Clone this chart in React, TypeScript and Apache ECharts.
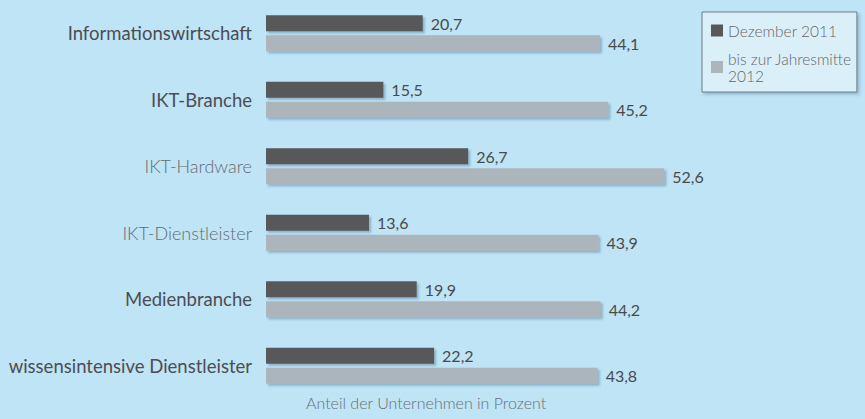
import React, { useEffect, useRef } from "react";
import * as echarts from "echarts";

const categories = [
  "Informationswirtschaft",
  "IKT-Branche",
  "IKT-Hardware",
  "IKT-Dienstleister",
  "Medienbranche",
  "wissensintensive Dienstleister",
];
const boldCategories = [
  "Informationswirtschaft",
  "IKT-Branche",
  "Medienbranche",
  "wissensintensive Dienstleister",
];
const seriesNames = ["Dezember 2011", "bis zur Jahresmitte\n2012"];
const dec2011 = [20.7, 15.5, 26.7, 13.6, 19.9, 22.2];
const mid2012 = [44.1, 45.2, 52.6, 43.9, 44.2, 43.8];
const axisTitle = "Anteil der Unternehmen in Prozent";

const FONT = "Lato, 'Open Sans', sans-serif";

export default function App() {
  const ref = useRef<HTMLDivElement>(null);
  useEffect(() => {
    if (!ref.current) return;
    const chart = echarts.init(ref.current, null, { renderer: "svg" });
    const shadow = {
      shadowColor: "rgba(40,80,110,0.35)",
      shadowBlur: 2,
      shadowOffsetX: 2,
      shadowOffsetY: 2,
    };
    const label = {
      show: true,
      position: "right" as const,
      distance: 8,
      color: "#4a4a4c",
      fontFamily: FONT,
      fontSize: 16,
      formatter: (p: any) => String(p.value).replace(".", ","),
    };
    chart.setOption({
      animation: false,
      backgroundColor: "#bee4f6",
      textStyle: { fontFamily: FONT },
      grid: { left: 266, right: 69, top: -4, height: 403, containLabel: false },
      legend: {
        orient: "vertical",
        left: 702,
        top: 12,
        padding: [10, 5, 8, 9],
        itemGap: 11,
        itemWidth: 12,
        itemHeight: 12,
        backgroundColor: "#dbeff9",
        borderColor: "#6d7d88",
        borderWidth: 1,
        shadowColor: "rgba(40,80,110,0.3)",
        shadowBlur: 3,
        shadowOffsetX: 2,
        shadowOffsetY: 2,
        icon: "rect",
        textStyle: { color: "#666", fontSize: 15.5, fontFamily: FONT, fontWeight: 300, lineHeight: 17 },
        data: seriesNames,
      },
      xAxis: {
        type: "value",
        min: 0,
        max: 70,
        show: false,
      },
      yAxis: {
        type: "category",
        data: categories,
        inverse: true,
        axisLine: { show: false },
        axisTick: { show: false },
        splitLine: { show: false },
        axisLabel: {
          margin: 14,
          formatter: (v: string) =>
            boldCategories.includes(v) ? `{b|${v}}` : `{n|${v}}`,
          rich: {
            b: { fontSize: 18.5, color: "#4c4d52", fontWeight: 400, fontFamily: FONT },
            n: { fontSize: 18, color: "#676c71", fontWeight: 300, fontFamily: FONT },
          },
        },
      },
      series: [
        {
          name: seriesNames[0],
          type: "bar",
          data: dec2011,
          barWidth: 16,
          barGap: "25%",
          itemStyle: { color: "#58585a", ...shadow },
          label,
        },
        {
          name: seriesNames[1],
          type: "bar",
          data: mid2012,
          barWidth: 16,
          itemStyle: { color: "#adb5bc", ...shadow },
          label,
        },
      ],
      graphic: [
        {
          type: "text",
          left: 306,
          top: 394,
          style: {
            text: axisTitle,
            fill: "#6a6f74",
            fontSize: 16,
            fontFamily: FONT,
            fontWeight: 300,
          },
        },
      ],
    });
    return () => chart.dispose();
  }, []);
  return <div ref={ref} style={{ width: 865, height: 419, position: "fixed", left: 0, top: 0 }} />;
}
